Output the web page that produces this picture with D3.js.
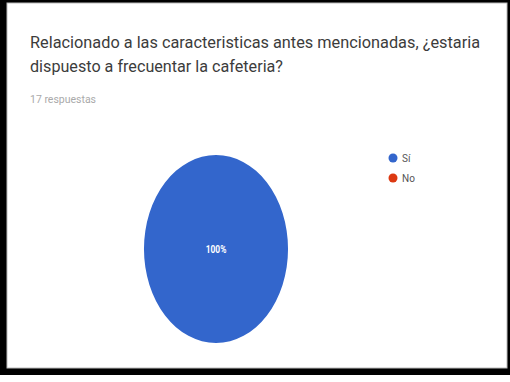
<!DOCTYPE html>
<html>
<head>
<meta charset="utf-8">
<script src="https://cdn.jsdelivr.net/npm/d3@7"></script>
<style>
  html, body { margin: 0; padding: 0; background: #fff; }
  svg { display: block; font-family: Roboto, "Noto Sans", sans-serif; }
</style>
</head>
<body>
<div id="chart"></div>
<script>
// data
var categories = ["Sí", "No"];
var values = [17, 0];
var colors = ["#3366cc", "#dc3912"];
var titleLines = [
  "Relacionado a las caracteristicas antes mencionadas, ¿estaria",
  "dispuesto a frecuentar la cafeteria?"
];
var subtitle = "17 respuestas";

var W = 510, H = 382;

var svg = d3.select('#chart').append('svg')
  .attr('width', W)
  .attr('height', H);

// black frame round the screenshot
svg.append('rect').attr('x', 0).attr('y', 0).attr('width', W).attr('height', 375).attr('fill', '#000');
svg.append('rect').attr('x', 7).attr('y', 3).attr('width', 500).attr('height', 365)
  .attr('fill', '#fff').attr('stroke', '#bbb').attr('stroke-width', 1);

// title
var titleWidths = [450, 253];
svg.selectAll('text.title').data(titleLines)
  .enter().append('text')
  .attr('class', 'title')
  .attr('x', 30)
  .attr('y', function(d, i) { return 48 + i * 24; })
  .attr('textLength', function(d, i) { return titleWidths[i]; })
  .attr('lengthAdjust', 'spacingAndGlyphs')
  .attr('font-size', 17)
  .attr('fill', '#3c3c3c')
  .text(function(d) { return d; });

svg.append('text')
  .attr('x', 30).attr('y', 103)
  .attr('textLength', 66)
  .attr('lengthAdjust', 'spacingAndGlyphs')
  .attr('font-size', 10)
  .attr('fill', '#aaa')
  .text(subtitle);

// pie (squeezed horizontally like the screenshot)
var cx = 216, cy = 249, r = 94, sx = 0.766;
var total = d3.sum(values);
var pie = d3.pie().sort(null)(values);
var arc = d3.arc().innerRadius(0).outerRadius(r);

var pieLayer = svg.append('g')
  .attr('transform', 'translate(' + cx + ',' + cy + ') scale(' + sx + ',1)');

pieLayer.selectAll('path.slice').data(pie)
  .enter().append('path')
  .attr('class', 'slice')
  .attr('d', arc)
  .attr('fill', function(d, i) { return colors[i]; });

pieLayer.selectAll('text.pct').data(pie.filter(function(d) { return d.value > 0; }))
  .enter().append('text')
  .attr('class', 'pct')
  .attr('transform', function(d) {
    var c = d.endAngle - d.startAngle >= 2 * Math.PI - 1e-6 ? [0, 0] : arc.centroid(d);
    return 'translate(' + c[0] + ',' + c[1] + ')';
  })
  .attr('text-anchor', 'middle')
  .attr('dy', '0.35em')
  .attr('font-size', 11)
  .attr('font-weight', 'bold')
  .attr('fill', '#fff')
  .text(function(d) { return Math.round(d.value / total * 100) + '%'; });

// legend
var legend = svg.append('g').attr('transform', 'translate(393,158)');
var items = legend.selectAll('g.item').data(categories)
  .enter().append('g')
  .attr('class', 'item')
  .attr('transform', function(d, i) { return 'translate(0,' + i * 20 + ')'; });

items.append('circle').attr('r', 4.5).attr('fill', function(d, i) { return colors[i]; });
items.append('text')
  .attr('x', 9).attr('dy', '0.35em')
  .attr('font-size', 10)
  .attr('fill', '#555')
  .text(function(d) { return d; });
</script>
</body>
</html>
